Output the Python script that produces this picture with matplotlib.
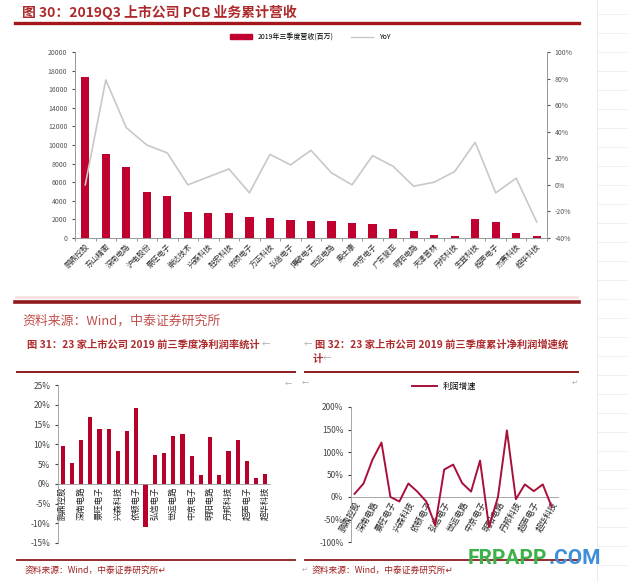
import matplotlib
matplotlib.use('Agg')
import matplotlib.pyplot as plt
from matplotlib.lines import Line2D
from matplotlib.patches import Patch, Rectangle

plt.rcParams['font.family'] = ['Noto Sans CJK SC', 'DejaVu Sans']

# data
companies = ['鹏鼎控股', '东山精密', '深南电路', '沪电股份', '景旺电子', '崇达技术', '兴森科技',
             '胜宏科技', '依顿电子', '方正科技', '弘信电子', '博敏电子', '世运电路', '奥士康',
             '中京电子', '广东骏亚', '明阳电路', '天津普林', '丹邦科技', '生益科技', '超声电子',
             '杰赛科技', '超华科技']
revenue = [17300, 9000, 7650, 5000, 4550, 2800, 2700, 2700, 2250, 2200, 1950, 1800,
           1800, 1650, 1500, 950, 800, 350, 250, 2000, 1700, 550, 250]
yoy = [0.00, 0.79, 0.43, 0.30, 0.24, 0.00, 0.06, 0.12, -0.06, 0.23, 0.15, 0.26,
       0.09, 0.00, 0.22, 0.14, -0.01, 0.02, 0.10, 0.32, -0.06, 0.05, -0.28]
margin = [9.6, 5.3, 11.2, 17.0, 13.8, 13.9, 8.3, 13.3, 19.3, -11.0, 7.2, 7.9,
          12.2, 12.5, 7.1, 2.1, 11.8, 2.1, 8.4, 11.0, 5.7, 1.4, 2.5]
growth = [7, 30, 83, 121, 0, -10, 30, 12, -10, -63, 61, 72, 31, 12, 81, -67,
          0, 148, -5, 28, 13, 28, -22]

W, H = 627, 582
fig = plt.figure(figsize=(W / 100, H / 100), dpi=100)
fig.patch.set_facecolor('white')

def rect(x0, y0, x1, y1):
    return [x0 / W, 1 - y1 / H, (x1 - x0) / W, (y1 - y0) / H]

def hline(x0, x1, y, color, lw):
    fig.add_artist(Line2D([x0 / W, x1 / W], [1 - y / H, 1 - y / H], color=color, lw=lw))

def txt(x, y, s, **kw):
    return fig.text(x / W, 1 - y / H, s, **kw)

dark_red = '#8c1c1f'
bar_red = '#c0002e'
title_red = '#ad2a2c'

# faint sheet grid on the right edge
fig.add_artist(Line2D([597 / W, 597 / W], [0, 1], color='#e8e8e8', lw=0.6))
for yy in range(14, 582, 19):
    hline(597, 627, yy, '#ececec', 0.6)

# ---- figure 30 ----
txt(22, 12, '图 30：2019Q3 上市公司 PCB 业务累计营收', fontsize=10, fontweight='bold',
    color=title_red, va='center')
hline(15, 579, 23, '#a3171c', 2.4)

ax1 = fig.add_axes(rect(75, 52, 547, 238))
x = list(range(len(companies)))
ax1.bar(x, revenue, width=0.4, color=bar_red, zorder=2)
ax1.set_ylim(0, 20000)
ax1.set_yticks(range(0, 20001, 2000))
ax1.set_xlim(-0.5, len(companies) - 0.5)
ax1.set_xticks(x)
ax1.set_xticklabels(companies, rotation=45, ha='right', rotation_mode='anchor',
                    fontsize=5.5, color='#333333')
ax1.set_xticks([i + 0.5 for i in range(-1, len(companies))], minor=True)
ax1.tick_params(axis='x', which='major', length=0, pad=3)
ax1.tick_params(axis='x', which='minor', length=2, color='#888888')
ax1.tick_params(axis='y', labelsize=5, colors='#555555', length=2)
ax1.spines['top'].set_visible(False)
for s in ['left', 'bottom', 'right']:
    ax1.spines[s].set_color('#999999')
    ax1.spines[s].set_linewidth(0.6)

ax2 = ax1.twinx()
ax2.plot(x, yoy, color='#c8c8c8', lw=1.2, zorder=3)
ax2.set_ylim(-0.4, 1.0)
ax2.set_yticks([-0.4, -0.2, 0, 0.2, 0.4, 0.6, 0.8, 1.0])
ax2.set_yticklabels(['-40%', '-20%', '0%', '20%', '40%', '60%', '80%', '100%'])
ax2.tick_params(axis='y', labelsize=5, colors='#555555', length=2)
ax2.spines['top'].set_visible(False)
for s in ['left', 'bottom', 'right']:
    ax2.spines[s].set_color('#999999')
    ax2.spines[s].set_linewidth(0.6)

fig.legend(handles=[Patch(color=bar_red, label='2019年三季度营收(百万)'),
                    Line2D([], [], color='#c8c8c8', lw=1, label='YoY')],
           loc='center', bbox_to_anchor=(310 / W, 1 - 37 / H), ncol=2, frameon=False,
           fontsize=5, handlelength=3.2, handleheight=0.6, columnspacing=2.5)

# separator
fig.add_artist(Rectangle((15 / W, 1 - 299 / H), 564 / W, 3 / H, color='#fbe3e3', lw=0))
hline(15, 579, 301.5, '#8e1a1e', 2.6)

txt(22, 321, '资料来源：Wind，中泰证券研究所', fontsize=9.3, color='#c0504d', va='center')

txt(27, 345, '图 31：23 家上市公司 2019 前三季度净利润率统计', fontsize=7.4, fontweight='bold',
    color=title_red, va='center')
txt(262, 345, '←', fontsize=6, color='#aaaaaa', va='center')
txt(304, 345, '←', fontsize=6, color='#aaaaaa', va='center')
txt(315, 345, '图 32：23 家上市公司 2019 前三季度累计净利润增速统', fontsize=7.4,
    fontweight='bold', color=title_red, va='center')
txt(313, 359, '计', fontsize=7.4, fontweight='bold', color=title_red, va='center')
txt(323, 359, '←', fontsize=6, color='#aaaaaa', va='center')

hline(17, 295, 372, dark_red, 1.4)
hline(305, 578, 372, dark_red, 1.4)

# ---- figure 31 ----
ax3 = fig.add_axes(rect(58, 385, 270, 543))
ax3.bar(x, margin, width=0.45, color='#b7002a', zorder=2)
ax3.set_ylim(-15, 25)
ax3.set_yticks(range(-15, 26, 5))
ax3.set_yticklabels([f'{v}%' for v in range(-15, 26, 5)])
ax3.set_xlim(-0.5, len(companies) - 0.5)
ax3.spines['bottom'].set_position(('data', 0))
ax3.spines['top'].set_visible(False)
ax3.spines['right'].set_visible(False)
for s in ['left', 'bottom']:
    ax3.spines[s].set_color('#999999')
    ax3.spines[s].set_linewidth(0.6)
ax3.set_xticks(x[::2])
ax3.set_xticklabels(companies[::2], rotation=90, fontsize=6, color='#222222', va='top')
ax3.tick_params(axis='x', length=0, pad=2)
ax3.tick_params(axis='y', labelsize=6, colors='#444444', length=2)
txt(285, 384, '←', fontsize=5, color='#aaaaaa', va='center')

hline(17, 295, 560, dark_red, 1.3)
txt(25, 570, '资料来源：Wind，中泰证券研究所↵', fontsize=6.3, color='#a02020', va='center',
    style='italic')

# ---- figure 32 ----
ax4 = fig.add_axes(rect(351, 407, 558, 542))
ax4.plot(x, growth, color='#a8103a', lw=1.4, label='利润增速', zorder=3)
ax4.set_ylim(-100, 200)
ax4.set_yticks(range(-100, 201, 50))
ax4.set_yticklabels([f'{v}%' for v in range(-100, 201, 50)])
ax4.set_xlim(-0.4, len(companies) - 0.3)
ax4.spines['bottom'].set_position(('data', 0))
ax4.spines['top'].set_visible(False)
ax4.spines['right'].set_visible(False)
for s in ['left', 'bottom']:
    ax4.spines[s].set_color('#999999')
    ax4.spines[s].set_linewidth(0.6)
ax4.set_xticks(x[::2])
ax4.set_xticklabels(companies[::2], rotation=60, ha='right', rotation_mode='anchor',
                    fontsize=6, color='#222222')
ax4.tick_params(axis='x', length=0, pad=2)
ax4.tick_params(axis='y', labelsize=6, colors='#444444', length=2)
ax4.legend(loc='center', bbox_to_anchor=(0.45, 1.15), frameon=False, fontsize=6,
           handlelength=3)
txt(302, 383, '←', fontsize=5, color='#aaaaaa', va='center')
txt(572, 383, '↵', fontsize=5, color='#aaaaaa', va='center')

hline(305, 578, 560, dark_red, 1.3)
txt(302, 570, '↵', fontsize=5, color='#aaaaaa', va='center')
txt(312, 570, '资料来源：Wind，中泰证券研究所↵', fontsize=6.3, color='#a02020', va='center',
    style='italic')

# watermark
w1 = txt(468, 558, 'FRPAPP', fontsize=15, fontweight='bold', color='#3db24a', va='center',
         family='Roboto')
fig.canvas.draw()
bb = w1.get_window_extent()
txt(bb.x1 + 1, 558, '.COM', fontsize=15, fontweight='bold', color='#3c8fd8', va='center',
    family='Roboto')

fig.savefig('out.png', dpi=100)
